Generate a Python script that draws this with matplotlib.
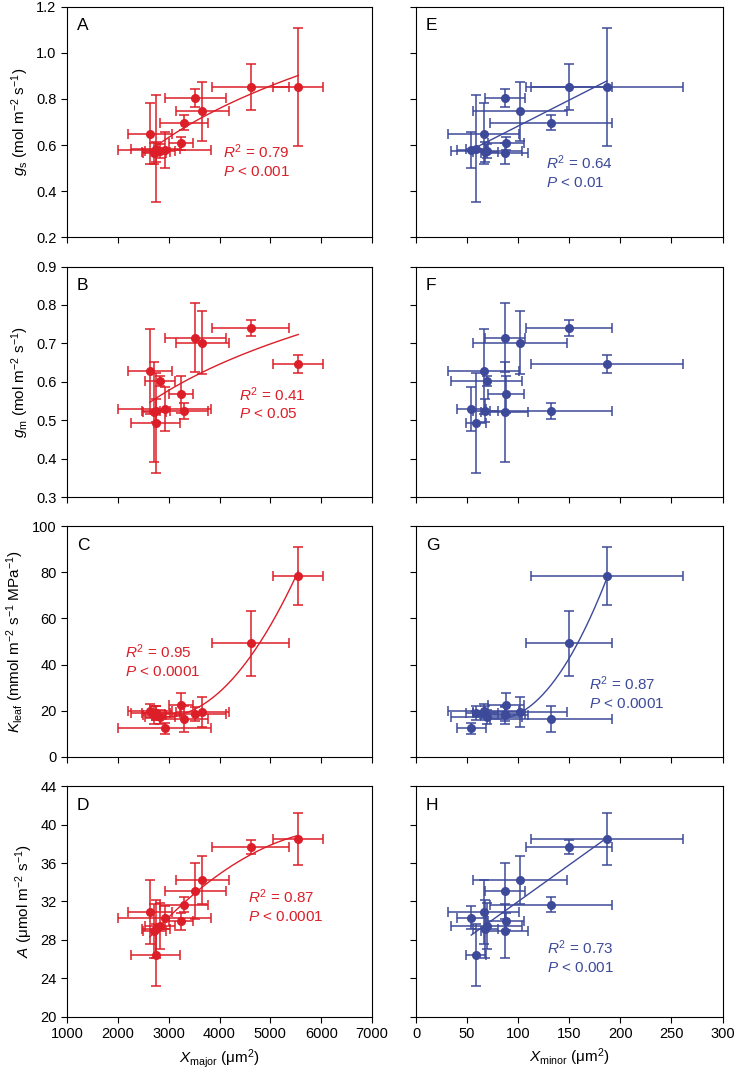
import numpy as np
import matplotlib
matplotlib.use("Agg")
import matplotlib.pyplot as plt

plt.rcParams['font.family'] = ['Liberation Sans', 'DejaVu Sans']
plt.rcParams['mathtext.fontset'] = 'custom'
plt.rcParams['mathtext.rm'] = 'Liberation Sans'
plt.rcParams['mathtext.it'] = 'Liberation Sans:italic'
plt.rcParams['mathtext.bf'] = 'Liberation Sans:bold'

RED = '#dc1e28'
BLUE = '#3d4a9a'

# twelve species, same order in every panel
x_major = [5548, 4613, 3664, 3520, 3297, 2630, 2924, 3245, 2826, 2747, 2720, 2747]
x_major_err = [490, 752, 520, 600, 475, 425, 916, 230, 300, 280, 230, 480]
x_minor = [186.9, 149.7, 101.8, 87.1, 132.1, 66.2, 54.1, 88.1, 69.1, 67.8, 87.1, 58.7]
x_minor_err = [74, 42, 46, 20, 60, 35, 14, 18, 35, 12, 23, 10]

gs = [0.852, 0.852, 0.746, 0.803, 0.697, 0.649, 0.577, 0.607, 0.575, 0.570, 0.565, 0.584]
gs_err = [0.255, 0.10, 0.129, 0.04, 0.033, 0.132, 0.078, 0.03, 0.03, 0.044, 0.045, 0.232]
gm = [0.646, 0.739, 0.702, 0.715, 0.524, 0.627, 0.529, 0.567, 0.602, 0.525, 0.521, 0.493]
gm_err = [0.023, 0.021, 0.083, 0.09, 0.02, 0.11, 0.057, 0.048, 0.013, 0.03, 0.13, 0.13]
kleaf = [78.4, 49.3, 19.4, 18.5, 16.4, 20.0, 12.3, 22.5, 17.4, 18.8, 18.0, 19.0]
kleaf_err = [12.75, 14.1, 6.3, 3.0, 5.6, 3.0, 2.5, 5.0, 3.0, 3.0, 4.0, 3.0]
anet = [38.49, 37.65, 34.2, 33.1, 31.65, 30.9, 30.28, 29.93, 29.4, 29.1, 28.95, 26.4]
anet_err = [2.7, 0.75, 2.5, 2.95, 0.8, 3.3, 1.2, 0.9, 2.4, 3.0, 2.8, 3.2]

rows = [
    (gs, gs_err, r'$g_\mathrm{s}$ (mol m$^{-2}$ s$^{-1}$)', (0.2, 1.2), np.arange(0.2, 1.21, 0.2), '{:.1f}'),
    (gm, gm_err, r'$g_\mathrm{m}$ (mol m$^{-2}$ s$^{-1}$)', (0.3, 0.9), np.arange(0.3, 0.91, 0.1), '{:.1f}'),
    (kleaf, kleaf_err, r'$K_\mathrm{leaf}$ (mmol m$^{-2}$ s$^{-1}$ MPa$^{-1}$)', (0, 100), np.arange(0, 101, 20), '{:.0f}'),
    (anet, anet_err, r'$A$ ($\mathrm{\mu}$mol m$^{-2}$ s$^{-1}$)', (20, 44), np.arange(20, 45, 4), '{:.0f}'),
]

# panel letter, fit kind, stats text, text position (axes fraction)
left_info = [('A', 'log', '0.79', '0.001', (0.51, 0.41)),
             ('B', 'log', '0.41', '0.05', (0.564, 0.486)),
             ('C', 'quad', '0.95', '0.0001', (0.19, 0.494)),
             ('D', 'quad', '0.87', '0.0001', (0.594, 0.562))]
right_info = [('E', 'lin', '0.64', '0.01', (0.424, 0.365)),
              ('F', None, None, None, None),
              ('G', 'quad', '0.87', '0.0001', (0.564, 0.355)),
              ('H', 'lin', '0.73', '0.001', (0.427, 0.341))]


def fit_curve(x, y, kind):
    x = np.asarray(x, float)
    y = np.asarray(y, float)
    xs = np.linspace(x.min(), x.max(), 200)
    if kind == 'lin':
        p = np.polyfit(x, y, 1)
        return xs, np.polyval(p, xs)
    if kind == 'quad':
        p = np.polyfit(x, y, 2)
        return xs, np.polyval(p, xs)
    if kind == 'log':
        p = np.polyfit(np.log(x), y, 1)
        return xs, np.polyval(p, np.log(xs))


fig = plt.figure(figsize=(7.35, 10.69), dpi=100)
bottoms = [0.778, 0.535, 0.2921, 0.0489]
h = 0.2157

for i, (yv, ye, ylab, ylim, yticks, fmt) in enumerate(rows):
    for j in range(2):
        if j == 0:
            ax = fig.add_axes([0.0912, bottoms[i], 0.415, h])
            xv, xe, col, info = x_major, x_major_err, RED, left_info[i]
            ax.set_xlim(1000, 7000)
            ax.set_xticks(np.arange(1000, 7001, 1000))
        else:
            ax = fig.add_axes([0.566, bottoms[i], 0.417, h])
            xv, xe, col, info = x_minor, x_minor_err, BLUE, right_info[i]
            ax.set_xlim(0, 300)
            ax.set_xticks(np.arange(0, 301, 50))
        ax.set_ylim(*ylim)
        ax.set_yticks(yticks)
        ax.errorbar(xv, yv, xerr=xe, yerr=ye, fmt='o', color=col, ms=5.5,
                    elinewidth=1.1, capsize=3.8, capthick=1.1, zorder=3)
        letter, kind, r2, pval, pos = info
        if kind:
            fx, fy = fit_curve(xv, yv, kind)
            ax.plot(fx, fy, color=col, lw=1.0, zorder=2)
            ax.text(pos[0], pos[1], '$R^2$ = ' + r2 + '\n$P$ < ' + pval,
                    transform=ax.transAxes, ha='left', va='top', color=col,
                    fontsize=11, linespacing=1.35)
        ax.text(0.033, 0.95, letter, transform=ax.transAxes, ha='left', va='top', fontsize=12.5)
        ax.tick_params(direction='out', length=4, width=0.8, labelsize=10.5, top=False, right=False)
        for s in ax.spines.values():
            s.set_linewidth(0.8)
        if j == 0:
            ax.set_yticklabels([fmt.format(t) for t in yticks])
            ax.set_ylabel(ylab, fontsize=11, labelpad=4)
        else:
            ax.set_yticklabels([])
        if i == 3:
            if j == 0:
                ax.set_xlabel(r'$X_\mathrm{major}$ ($\mathrm{\mu}$m$^2$)', fontsize=11)
            else:
                ax.set_xlabel(r'$X_\mathrm{minor}$ ($\mathrm{\mu}$m$^2$)', fontsize=11)
        else:
            ax.set_xticklabels([])

fig.savefig('out.png', dpi=100)
